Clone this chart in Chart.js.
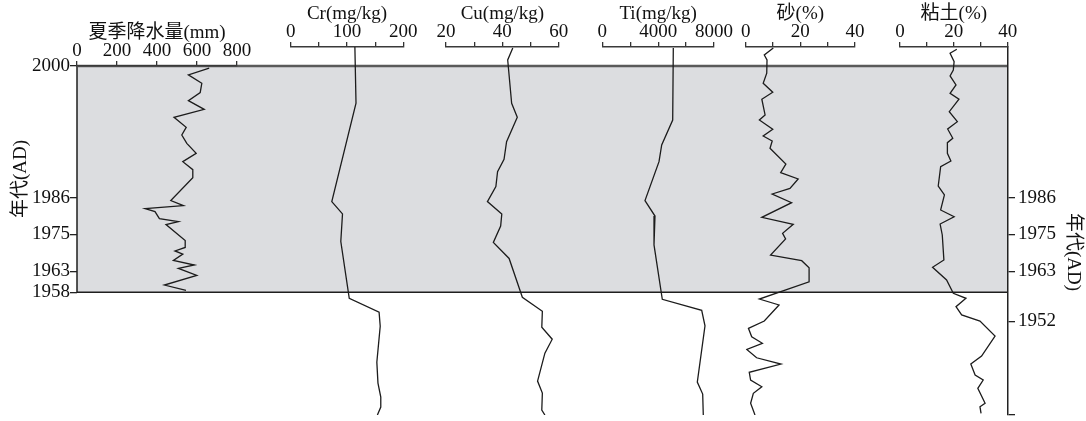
<!DOCTYPE html>
<html><head><meta charset="utf-8">
<script src="https://cdn.jsdelivr.net/npm/chart.js@4/dist/chart.umd.min.js"></script>
<style>html,body{margin:0;padding:0;background:#fff;}canvas{display:block;}</style>
</head><body>
<canvas id="c" width="1086" height="421"></canvas>
<script>
// ---------- DATA (depth in cm below top of record; 0 = year 2000) ----------
const precipDepth = [0.23,0.9,1.74,2.67,3.48,4.35,5.15,6.15,6.92,7.76,8.76,9.6,10.4,11.2,13.5,14.0,14.3,14.6,15.3,15.6,15.9,17.5,18.2,18.55,18.86,19.5,19.96,20.3,21.0,21.97,22.5];
const precipValue = [661,557,624,616,557,636,485,546,524,549,596,529,579,579,469,532,341,390,412,507,445,541,541,490,529,482,587,507,599,437,545];

const crDepth = [-1.9,3.74,13.6,14.84,17.6,23.3,24.7,26.1,29.7,31.8,33.2,34.2,35];
const crValue = [114,116,73,92,89,104,157,159,153,155,160,160,154];

const cuDepth = [-1.8,-0.6,3.74,5.15,7.59,9.36,10.6,12.1,13.6,14.84,16.05,17.7,19.3,23.2,24.6,26.2,27.4,28.8,31.6,32.8,34.5,35];
const cuValue = [43.7,41.9,43.3,45.3,41.5,40.6,38.3,37.7,34.7,39.8,39.4,36.8,42.4,47.1,54.2,54.0,57.7,55.1,52.5,54.2,54.0,55.1];

const tiDepth = [-1.8,5.42,7.92,9.6,13.5,15.05,17.95,23.4,24.5,26.05,31.7,32.9,35];
const tiValue = [5085,5042,4254,4061,3058,3774,3703,4297,7119,7355,6804,7190,7233];

const sandDepth = [-1.8,-1.1,-0.6,0.73,1.74,2.64,3.34,4.91,5.42,6.35,7.02,7.52,8.25,9.83,10.7,11.33,12.27,12.84,13.71,15.18,15.88,16.78,17.35,18.96,19.53,20.23,21.64,23.37,23.97,25.58,26.31,27.15,27.81,28.42,29.26,29.89,30.72,31.49,32.17,32.83,33.83,35];
const sandValue = [10.1,6.8,7.8,7.7,6.4,9.9,5.9,7.1,5.0,9.9,6.4,9.7,8.9,14.7,12.8,19.2,16.2,9.7,16.8,5.9,17.4,13.5,14.6,9.1,20.5,23.2,23.2,5.0,12.2,6.8,1.0,2.2,6.1,0.4,4.0,12.9,1.3,1.8,5.9,2.8,1.8,3.4];

const clayDepth = [-1.67,-1.27,-0.43,0.4,1.0,1.91,2.74,3.34,4.58,5.59,6.32,7.25,7.69,8.76,9.53,10.1,12.04,12.94,14.44,15.12,15.85,16.95,19.46,20.19,21.46,22.8,23.3,24.14,24.97,25.58,27.08,29.09,29.89,30.99,31.49,32.33,33.83,34.17,34.83];
const clayValue = [21.1,18.6,20.1,19.8,18.6,20.8,18.6,21.9,18.3,21.3,17.7,19.6,17.6,17.6,18.9,15.1,14.2,16.5,15.1,20.1,14.9,15.7,16.3,12.1,17.3,19.8,24.5,20.8,22.9,29.7,35.3,30.3,26.3,27.9,30.9,28.9,31.6,29.7,30.1];

// Age axis tick labels and the depth at which each sits
const leftYearLabels = ['2000','1986','1975','1963','1958'];
const leftYearDepth  = [0, 13.2, 16.9, 20.6, 22.7];
const rightYearLabels = ['1986','1975','1963','1952',''];
const rightYearDepth  = [13.2, 16.9, 20.6, 25.6, 35];
const shadedTop = 0, shadedBottom = 22.7;   // 2000 .. 1958
const depthMin = -1.9, depthMax = 35;

// Panel axis titles and ticks
const titles = ['夏季降水量(mm)','Cr(mg/kg)','Cu(mg/kg)','Ti(mg/kg)','砂(%)','粘土(%)'];
const precipTicks = [0,200,400,600,800],   precipLabels = [0,200,400,600,800];
const crTicks = [0,50,100,150,200],        crLabels = [0,100,200];
const cuTicks = [20,30,40,50,60],          cuLabels = [20,40,60];
const tiTicks = [0,2000,4000,6000,8000],   tiLabels = [0,4000,8000];
const sandTicks = [0,10,20,30,40],         sandLabels = [0,20,40];
const clayTicks = [0,10,20,30,40],         clayLabels = [0,20,40];
const yTitle = '年代(AD)';

// ---------- LAYOUT (pixels) ----------
const FONT = "'Liberation Serif', 'Noto Sans CJK SC', serif";
const FS = 19;
const panelBox = {xP:[77,237], xCr:[290.7,403.3], xCu:[446,558.7], xTi:[602.3,714], xSand:[745.7,855], xClay:[900,1007.7]};
const AXIS_H = 44;

function xAxis(id, min, max, ticks, labels, title) {
  return {
    type: 'linear', position: 'top', min, max,
    afterBuildTicks: s => { s.ticks = ticks.map(v => ({value: v})); },
    afterFit: s => { s.height = 0; s.paddingLeft = 0; s.paddingRight = 0; },
    ticks: {
      autoSkip: false, maxRotation: 0, minRotation: 0, padding: 0, color: '#111',
      font: {family: FONT, size: FS, lineHeight: 1.0},
      callback: v => labels.includes(v) ? String(v) : ''
    },
    grid: {display: true, drawOnChartArea: false, drawTicks: true, tickLength: 5, color: '#333', lineWidth: 1.3},
    border: {display: true, color: '#3a3a3a', width: 1.6},
    title: {display: true, text: title, color: '#111', padding: 0, font: {family: FONT, size: FS, lineHeight: 1.2}}
  };
}

function ds(xID, values, depths) {
  return {
    xAxisID: xID, yAxisID: 'y',
    data: values.map((v, i) => ({x: v, y: depths[i]})),
    borderColor: '#1c1c1c', borderWidth: 1.3, pointRadius: 0, tension: 0, fill: false
  };
}

const panelPlugin = {
  id: 'panels',
  afterLayout(chart) {
    const ca = chart.chartArea;
    const yS = chart.scales.y;
    Object.keys(panelBox).forEach(id => {
      const s = chart.scales[id];
      const bottom = id === 'xP' ? yS.getPixelForValue(shadedTop) : ca.top;
      s.left = panelBox[id][0]; s.right = panelBox[id][1]; s.width = s.right - s.left;
      s.bottom = bottom; s.top = bottom - AXIS_H; s.height = AXIS_H;
      s.configure();
    });
  },
  beforeDraw(chart) {
    const {ctx, chartArea: ca} = chart;
    const yS = chart.scales.y;
    const t = yS.getPixelForValue(shadedTop), b = yS.getPixelForValue(shadedBottom);
    ctx.save();
    ctx.fillStyle = '#dcdde0';
    ctx.fillRect(ca.left, t, ca.right - ca.left, b - t);
    ctx.strokeStyle = '#1e1e1e'; ctx.lineWidth = 1.5;
    ctx.beginPath(); ctx.moveTo(ca.left, t); ctx.lineTo(ca.left, b); ctx.stroke();
    ctx.beginPath(); ctx.moveTo(ca.left, b); ctx.lineTo(ca.right, b); ctx.stroke();
    ctx.strokeStyle = '#5a5a5a'; ctx.lineWidth = 2.4;
    ctx.beginPath(); ctx.moveTo(ca.left, t); ctx.lineTo(ca.right, t); ctx.stroke();
    ctx.restore();
  },
  afterDraw(chart) {
    const {ctx} = chart;
    ctx.save();
    ctx.fillStyle = '#111';
    ctx.font = FS + 'px ' + FONT;
    ctx.textAlign = 'center'; ctx.textBaseline = 'middle';
    ctx.translate(21, 179); ctx.rotate(-Math.PI / 2); ctx.fillText(yTitle, 0, 0);
    ctx.restore();
    ctx.save();
    ctx.fillStyle = '#111';
    ctx.font = FS + 'px ' + FONT;
    ctx.textAlign = 'center'; ctx.textBaseline = 'middle';
    ctx.translate(1073, 252); ctx.rotate(Math.PI / 2); ctx.fillText(yTitle, 0, 0);
    ctx.restore();
  }
};

function yAxis(position, depths, labels, width, showBorder) {
  return {
    type: 'linear', position, reverse: true, min: depthMin, max: depthMax,
    afterBuildTicks: s => { s.ticks = depths.map(v => ({value: v})); },
    afterFit: s => { s.width = width; s.paddingTop = 0; s.paddingBottom = 0; },
    ticks: {
      autoSkip: false, padding: position === 'left' ? 0 : 3, color: '#111',
      font: {family: FONT, size: FS, lineHeight: 1.0},
      callback: (v, i) => labels[i]
    },
    grid: {display: true, drawOnChartArea: false, drawTicks: true, tickLength: 7, color: '#222', lineWidth: 1.3},
    border: {display: showBorder, color: '#222', width: 1.5}
  };
}

new Chart(document.getElementById('c'), {
  type: 'line',
  data: {
    datasets: [
      ds('xP', precipValue, precipDepth),
      ds('xCr', crValue, crDepth),
      ds('xCu', cuValue, cuDepth),
      ds('xTi', tiValue, tiDepth),
      ds('xSand', sandValue, sandDepth),
      ds('xClay', clayValue, clayDepth)
    ]
  },
  options: {
    responsive: false, animation: false, devicePixelRatio: 1,
    layout: {padding: {top: 47, bottom: 6, left: 0, right: 0}},
    plugins: {legend: {display: false}, tooltip: {enabled: false}},
    scales: {
      y: yAxis('left', leftYearDepth, leftYearLabels, 77, false),
      yR: yAxis('right', rightYearDepth, rightYearLabels, 78, true),
      xP: xAxis('xP', 0, 800, precipTicks, precipLabels, titles[0]),
      xCr: xAxis('xCr', 0, 200, crTicks, crLabels, titles[1]),
      xCu: xAxis('xCu', 20, 60, cuTicks, cuLabels, titles[2]),
      xTi: xAxis('xTi', 0, 8000, tiTicks, tiLabels, titles[3]),
      xSand: xAxis('xSand', 0, 40, sandTicks, sandLabels, titles[4]),
      xClay: xAxis('xClay', 0, 40, clayTicks, clayLabels, titles[5])
    }
  },
  plugins: [panelPlugin]
});
</script>
</body></html>
